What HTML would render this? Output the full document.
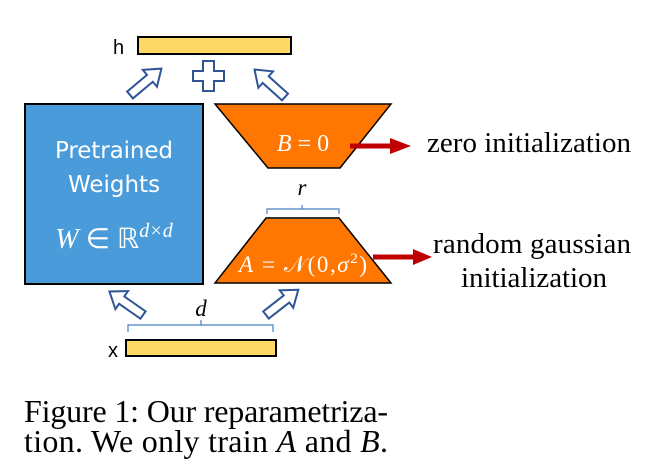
<!DOCTYPE html>
<html><head><meta charset="utf-8"><style>
html,body{margin:0;padding:0;background:#fff;}
svg{display:block;}
</style></head><body>
<svg width="658" height="474" viewBox="0 0 658 474" xmlns="http://www.w3.org/2000/svg">
<defs>
<polygon id="ar" points="0,-4.5 26,-4.5 26,-11 41,0 26,11 26,4.5 0,4.5" fill="#fff" stroke="#2F5597" stroke-width="2"/>
</defs>
<text x="113" y="54" font-family="Liberation Sans, sans-serif" font-size="20" fill="#000">h</text>
<rect x="138" y="37" width="153" height="17" fill="#FFD966" stroke="#000" stroke-width="2"/>
<path d="M203,61 h11 v10 h10 v10 h-10 v10 h-11 v-10 h-10 v-10 h10 z" fill="#fff" stroke="#2F5597" stroke-width="2"/>
<use href="#ar" transform="translate(130,95) rotate(-40)"/>
<use href="#ar" transform="translate(285,97) rotate(-138)"/>
<use href="#ar" transform="translate(143,315) rotate(-145)"/>
<use href="#ar" transform="translate(266,315) rotate(-38)"/>
<rect x="25" y="104" width="178" height="180" fill="#4A9BD9" stroke="#000" stroke-width="2"/>
<text x="114" y="158" text-anchor="middle" font-family="DejaVu Sans, Liberation Sans, sans-serif" font-size="23" fill="#fff" textLength="118">Pretrained</text>
<text x="114" y="192" text-anchor="middle" font-family="DejaVu Sans, Liberation Sans, sans-serif" font-size="23" fill="#fff">Weights</text>
<text x="114" y="248" text-anchor="middle" font-family="Liberation Serif, serif" font-size="28" fill="#fff"><tspan font-style="italic">W</tspan> ∈ ℝ<tspan font-style="italic" font-size="20" dy="-11">d×d</tspan></text>
<polygon points="215,104 391,104 340,168 268,168" fill="#FF7700" stroke="#000" stroke-width="1.5"/>
<text x="303" y="151" text-anchor="middle" font-family="Liberation Serif, serif" font-size="24" fill="#fff"><tspan font-style="italic">B</tspan> = 0</text>
<polygon points="266,218 339,218 391,283 215,283" fill="#FF7700" stroke="#000" stroke-width="1.5"/>
<line x1="266" y1="218" x2="339" y2="218" stroke="#333" stroke-width="2"/>
<text x="303" y="272" text-anchor="middle" font-family="Liberation Serif, serif" font-size="23" fill="#fff" textLength="128"><tspan font-style="italic">A</tspan> = 𝒩(0,<tspan font-style="italic">σ</tspan><tspan font-size="15" dy="-9">2</tspan><tspan dy="9">)</tspan></text>
<text x="302" y="195" text-anchor="middle" font-family="Liberation Serif, serif" font-style="italic" font-size="23">r</text>
<path d="M267,214 v-5 h35 v-4 v4 h37 v5" fill="none" stroke="#4A7FC1" stroke-width="1.2"/>
<text x="201" y="316" text-anchor="middle" font-family="Liberation Serif, serif" font-style="italic" font-size="23">d</text>
<path d="M128,332 v-7 h73 v-5 v5 h72 v7" fill="none" stroke="#4A7FC1" stroke-width="1.2"/>
<text x="108" y="357" font-family="Liberation Sans, sans-serif" font-size="20" fill="#000">x</text>
<rect x="126" y="340" width="150" height="16" fill="#FFD966" stroke="#000" stroke-width="2"/>
<line x1="350" y1="146" x2="394" y2="146" stroke="#C00000" stroke-width="5"/>
<polygon points="390,138 411,146 390,154" fill="#C00000"/>
<line x1="373" y1="257" x2="416" y2="257" stroke="#C00000" stroke-width="5"/>
<polygon points="413,249 432,257 413,265" fill="#C00000"/>
<text x="427" y="152" font-family="Liberation Serif, serif" font-size="29" fill="#000" textLength="204">zero initialization</text>
<text x="532" y="253" text-anchor="middle" font-family="Liberation Serif, serif" font-size="29" fill="#000" textLength="198">random gaussian</text>
<text x="534" y="287" text-anchor="middle" font-family="Liberation Serif, serif" font-size="29" fill="#000" textLength="146">initialization</text>
<text x="24" y="422" font-family="Liberation Serif, serif" font-size="32" fill="#000" textLength="364">Figure 1: Our reparametriza-</text>
<text x="24" y="452" font-family="Liberation Serif, serif" font-size="32" fill="#000" textLength="364">tion. We only train <tspan font-style="italic">A</tspan> and <tspan font-style="italic">B</tspan>.</text>
</svg>
</body></html>
